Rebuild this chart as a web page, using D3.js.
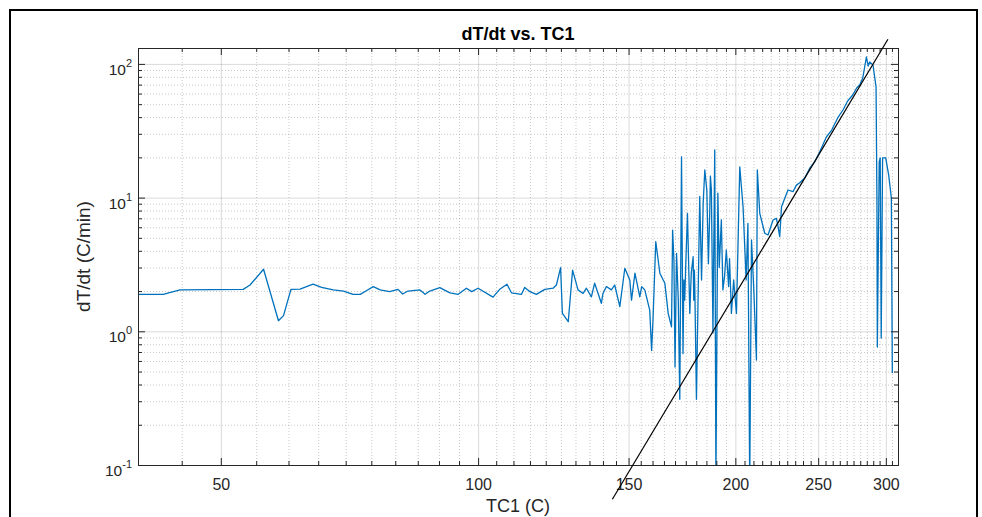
<!DOCTYPE html>
<html>
<head>
<meta charset="utf-8">
<script src="https://cdn.jsdelivr.net/npm/d3@7"></script>
<style>
  body { margin: 0; background: #fff; }
  text { font-family: "Liberation Sans", Arial, Helvetica, sans-serif; fill: #262626; }
</style>
</head>
<body>
<svg id="chart" width="982" height="517"></svg>
<script>
// TC1 (C) readings along the measured curve
const tc1 = [
  40.0, 42.8, 44.8, 53.1, 54.1, 56.1, 58.4, 59.2, 60.4, 61.9,
  64.1, 65.6, 67.7, 69.6, 71.4, 72.8, 74.0, 75.4, 76.8, 78.8,
  80.6, 81.6, 82.8, 85.5, 86.7, 87.8, 90.2, 92.7, 94.8, 96.9,
  98.3, 100.0, 104.1, 106.0, 108.1, 109.4, 112.4, 113.4, 115.0, 117.0,
  119.7, 122.4,
  123.5, 124.9, 125.5, 127.5, 129.0, 130.9, 132.7, 133.9, 135.7, 136.9,
  139.4, 140.0, 141.3, 143.2, 144.5, 146.5, 148.5, 150.5, 151.2, 152.6,
  154.6, 155.4, 156.7, 158.8, 159.6, 160.2, 161.4, 163.2, 165.4, 166.9,
  168.4, 168.9, 169.5, 170.0, 170.7, 171.5, 172.2, 173.0, 173.7, 174.1,
  174.5, 175.0, 175.8, 176.9, 177.6, 178.5, 178.8, 179.1, 179.3, 180.1,
  181.7, 182.6, 183.4, 184.2, 185.2, 186.0, 186.7, 187.0, 187.5, 188.3,
  189.2, 189.8, 190.8, 191.5, 192.6, 193.4, 194.3, 195.2, 196.4, 196.9,
  197.9, 199.1, 200.6, 202.4, 204.2, 205.9, 206.9, 207.9, 208.9, 210.2,
  211.7, 212.2, 213.6, 216.5, 218.4, 221.4, 223.4, 224.4, 225.4, 226.5,
  228.5, 230.5, 233.6, 235.8,
  237.9, 241.1, 244.4, 247.7, 251.0, 255.6, 259.3, 263.5, 267.3, 270.7,
  274.4, 277.3, 279.6, 281.9, 284.7, 286.1, 287.2, 289.8, 292.2, 292.9,
  293.2, 294.7, 295.5, 296.3, 297.4, 299.9, 302.3, 304.5, 305.3
];
// dT/dt (C/min) at each reading
const dTdt = [
  1.89, 1.89, 2.04, 2.06, 2.22, 2.91, 1.20, 1.31, 2.06, 2.07,
  2.25, 2.13, 2.04, 2.00, 1.89, 1.89, 2.01, 2.16, 2.04, 1.98,
  2.06, 1.90, 2.00, 2.04, 1.89, 2.00, 2.12, 1.94, 1.89, 2.10,
  1.98, 2.10, 1.80, 2.06, 2.25, 1.94, 1.89, 2.13, 1.98, 1.89,
  2.06, 2.10,
  2.22, 2.99, 1.36, 1.18, 2.87, 2.04, 1.92, 2.10, 1.81, 2.29,
  1.62, 1.92, 2.16, 2.04, 2.22, 1.53, 2.96, 2.42, 1.71, 2.72,
  1.81, 2.16, 2.04, 1.44, 0.72, 1.21, 4.68, 2.72, 2.29, 1.36,
  1.08, 5.72, 3.41, 0.54, 3.83, 1.71, 0.31, 20.2, 0.68, 2.42,
  1.71, 3.20, 7.63, 1.36, 2.72, 3.61, 1.71, 2.87, 2.16, 0.31,
  10.2, 2.42, 9.07, 16.1, 11.4, 3.20, 8.08, 14.5, 11.4, 0.97,
  22.7, 0.077, 10.8, 3.00, 6.80, 2.04, 2.60, 4.06, 2.16, 3.50,
  1.36, 2.42, 1.36, 17.0, 8.55, 2.42, 6.42, 0.071, 4.82, 2.04,
  0.61, 16.1, 7.63, 5.41, 5.25, 6.80, 7.00, 6.06, 5.10, 8.55,
  9.88, 11.4, 11.07, 12.4,
  12.9, 14.0, 16.6, 18.5, 21.9, 28.4, 32.0, 39.4, 45.2, 52.8,
  58.5, 66.0, 69.5, 78.4, 112.6, 96.4, 103.3, 98.1, 67.2, 9.60,
  0.763, 18.5, 19.8, 0.89, 19.8, 19.8, 14.8, 9.93, 0.488
];
// power-law fit drawn over the data
const fitTC1 = [143.6, 301.7];
const fitRate = [0.0554, 152.8];

const xMajorTicks = [50, 100, 150, 200, 250, 300];
const yMajorTicks = [0.1, 1, 10, 100];
const yTickExponents = ["-1", "0", "1", "2"];

// Layout
const width = 982, height = 517;
const margin = { top: 48, right: 84, bottom: 52, left: 138 };
const plotW = width - margin.left - margin.right;
const plotH = height - margin.top - margin.bottom;

const svg = d3.select("#chart");

// outer frame of the screenshot
svg.append("rect")
  .attr("x", 10).attr("y", 10)
  .attr("width", 967).attr("height", 560)
  .attr("fill", "none")
  .attr("stroke", "#000")
  .attr("stroke-width", 2);

const g = svg.append("g")
  .attr("transform", "translate(" + margin.left + "," + margin.top + ")");

const x = d3.scaleLog().domain([40, 310]).range([0, plotW]);
const y = d3.scaleLog().domain([0.1, 131.5]).range([plotH, 0]);

const xMinorTicks = d3.range(40, 311, 5).filter((v) => !xMajorTicks.includes(v));
const yMinorTicks = [0.1, 1, 10]
  .flatMap((d) => d3.range(2, 10).map((k) => k * d))
  .filter((v) => v < 131.5);

// Grid lines
function gridStyle(sel, opacity, dash) {
  sel.select(".domain").remove();
  sel.selectAll("line")
    .attr("stroke", "#262626")
    .attr("stroke-opacity", opacity)
    .attr("stroke-dasharray", dash);
}

g.append("g")
  .attr("transform", "translate(0," + plotH + ")")
  .call(d3.axisBottom(x).tickValues(xMinorTicks).tickSize(-plotH).tickFormat(""))
  .call(gridStyle, 0.25, "1,2");
g.append("g")
  .call(d3.axisLeft(y).tickValues(yMinorTicks).tickSize(-plotW).tickFormat(""))
  .call(gridStyle, 0.25, "1,2");
g.append("g")
  .attr("transform", "translate(0," + plotH + ")")
  .call(d3.axisBottom(x).tickValues(xMajorTicks).tickSize(-plotH).tickFormat(""))
  .call(gridStyle, 0.17, null);
g.append("g")
  .call(d3.axisLeft(y).tickValues(yMajorTicks).tickSize(-plotW).tickFormat(""))
  .call(gridStyle, 0.17, null);

// Data line
g.append("clipPath").attr("id", "plot-clip")
  .append("rect").attr("width", plotW).attr("height", plotH);

const line = d3.line()
  .x((d) => x(d[0]))
  .y((d) => y(d[1]));

g.append("path")
  .datum(d3.zip(tc1, dTdt))
  .attr("clip-path", "url(#plot-clip)")
  .attr("fill", "none")
  .attr("stroke", "#0072BD")
  .attr("stroke-width", 1.3)
  .attr("stroke-linejoin", "round")
  .attr("d", line);

// Axes with inward ticks on all four sides
function tickStyle(sel) {
  sel.selectAll("line").attr("stroke", "#262626");
  sel.select(".domain").attr("stroke", "#262626");
}

g.append("g")
  .attr("transform", "translate(0," + plotH + ")")
  .call(d3.axisBottom(x).tickValues(xMinorTicks).tickSize(-4).tickFormat(""))
  .call(tickStyle);
g.append("g")
  .call(d3.axisTop(x).tickValues(xMinorTicks).tickSize(-4).tickFormat(""))
  .call(tickStyle);
g.append("g")
  .call(d3.axisLeft(y).tickValues(yMinorTicks).tickSize(-4).tickFormat(""))
  .call(tickStyle);
g.append("g")
  .attr("transform", "translate(" + plotW + ",0)")
  .call(d3.axisRight(y).tickValues(yMinorTicks).tickSize(-4).tickFormat(""))
  .call(tickStyle);

g.append("g")
  .attr("transform", "translate(0," + plotH + ")")
  .call(d3.axisBottom(x).tickValues(xMajorTicks).tickSize(-7).tickSizeOuter(0).tickFormat(d3.format("d")))
  .call(tickStyle)
  .call((s) => s.selectAll("text")
    .attr("y", 24.5)
    .attr("dy", null)
    .attr("font-size", 16)
    .attr("fill", "#262626"));
g.append("g")
  .call(d3.axisTop(x).tickValues(xMajorTicks).tickSize(-7).tickSizeOuter(0).tickFormat(""))
  .call(tickStyle);
g.append("g")
  .attr("transform", "translate(" + plotW + ",0)")
  .call(d3.axisRight(y).tickValues(yMajorTicks).tickSize(-7).tickSizeOuter(0).tickFormat(""))
  .call(tickStyle);
g.append("g")
  .call(d3.axisLeft(y).tickValues(yMajorTicks).tickSize(-7).tickSizeOuter(0).tickPadding(6))
  .call(tickStyle)
  .call((s) => {
    const t = s.selectAll("text")
      .text(null)
      .attr("dy", null)
      .attr("y", 10.5)
      .attr("font-size", 15.5)
      .attr("fill", "#262626");
    t.append("tspan").text("10");
    t.append("tspan")
      .attr("dy", -8)
      .attr("font-size", 11)
      .text((d) => yTickExponents[yMajorTicks.indexOf(d)]);
  });

// Fitted line, not clipped to the axes
g.append("path")
  .datum(d3.zip(fitTC1, fitRate))
  .attr("fill", "none")
  .attr("stroke", "#000")
  .attr("stroke-width", 1.2)
  .attr("d", line);

// Titles
svg.append("text")
  .attr("x", margin.left + plotW / 2)
  .attr("y", 40)
  .attr("text-anchor", "middle")
  .attr("font-size", 18)
  .attr("font-weight", "bold")
  .style("fill", "#000")
  .text("dT/dt vs. TC1");

svg.append("text")
  .attr("x", margin.left + plotW / 2)
  .attr("y", 512)
  .attr("text-anchor", "middle")
  .attr("font-size", 18)
  .text("TC1 (C)");

svg.append("text")
  .attr("transform", "translate(90," + (margin.top + plotH / 2) + ") rotate(-90)")
  .attr("text-anchor", "middle")
  .attr("font-size", 19)
  .text("dT/dt (C/min)");
</script>
</body>
</html>
